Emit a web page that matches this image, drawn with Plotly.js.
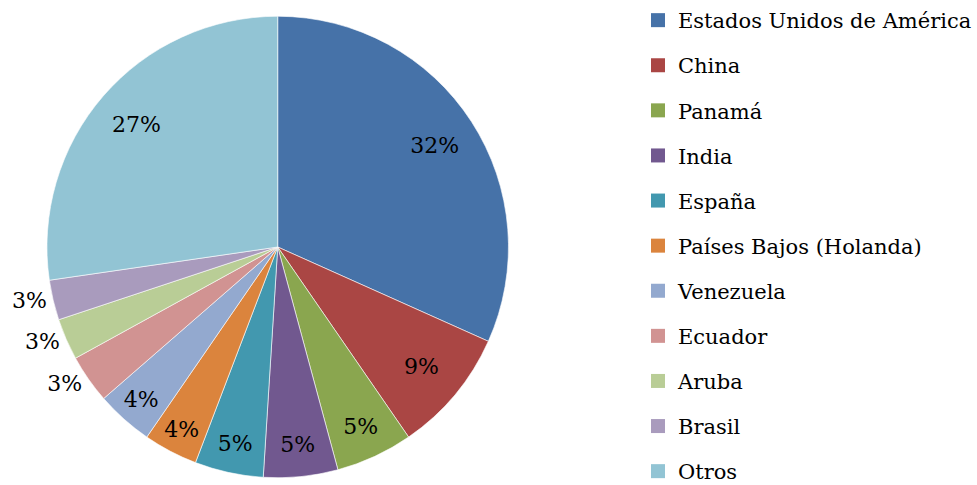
<!DOCTYPE html>
<html>
<head>
<meta charset="utf-8">
<script src="https://cdn.plot.ly/plotly-3.0.1.min.js"></script>
<style>html,body{margin:0;padding:0;background:#fff;}#chart{width:977px;height:485px;}</style>
</head>
<body>
<div id="chart"></div>
<script>
var countries = ["Estados Unidos de América","China","Panamá","India","España","Países Bajos (Holanda)","Venezuela","Ecuador","Aruba","Brasil","Otros"];
var shares = [31.7, 8.7, 5.4, 5.2, 4.8, 3.8, 4.0, 3.4, 2.9, 2.8, 27.3];
var colors = ["#4672A8","#AA4644","#8AA64F","#71588F","#4298AF","#DB843D","#93A9CF","#D19392","#B9CD96","#A99BBD","#92C4D4"];
var labelPos = ["inside","inside","inside","inside","inside","inside","inside","outside","outside","outside","inside"];

var font = "DejaVu Serif";
var dom = {x: [47/977, 509/977], y: [7/485, 469/485]};
var traces = [{
  type: "pie",
  labels: countries,
  values: shares,
  sort: false,
  direction: "clockwise",
  rotation: 0,
  marker: {colors: colors, line: {color: "#ffffff", width: 0.6}},
  textinfo: "none",
  showlegend: false,
  hoverinfo: "label+percent",
  domain: dom
}, {
  type: "pie",
  labels: countries,
  values: shares,
  sort: false,
  direction: "clockwise",
  rotation: 0,
  hole: 0.62,
  marker: {colors: countries.map(function(){return "rgba(0,0,0,0)";}), line: {width: 0}},
  texttemplate: "%{percent:.0%}",
  textposition: labelPos,
  insidetextorientation: "horizontal",
  textfont: {family: font, size: 22, color: "#000"},
  showlegend: false,
  hoverinfo: "skip",
  domain: dom
}];
countries.forEach(function(c, i) {
  traces.push({
    type: "scatter", mode: "markers", x: [null], y: [null],
    name: c, legendgroup: "g" + i,
    marker: {symbol: "square", size: 14, color: colors[i]},
    hoverinfo: "skip"
  });
});
var layout = {
  width: 977, height: 485,
  margin: {l: 0, r: 0, t: 0, b: 0},
  font: {family: font, size: 21, color: "#000"},
  paper_bgcolor: "#fff", plot_bgcolor: "rgba(0,0,0,0)",
  xaxis: {visible: false}, yaxis: {visible: false},
  showlegend: true,
  legend: {
    x: 0.654, y: 1.0, xanchor: "left", yanchor: "top",
    font: {family: font, size: 21, color: "#000"},
    traceorder: "grouped", tracegroupgap: 14.8,
    itemwidth: 30, bgcolor: "rgba(0,0,0,0)",
    maxheight: 1000
  }
};
Plotly.newPlot("chart", traces, layout, {displayModeBar: false, staticPlot: true});
</script>
</body>
</html>
